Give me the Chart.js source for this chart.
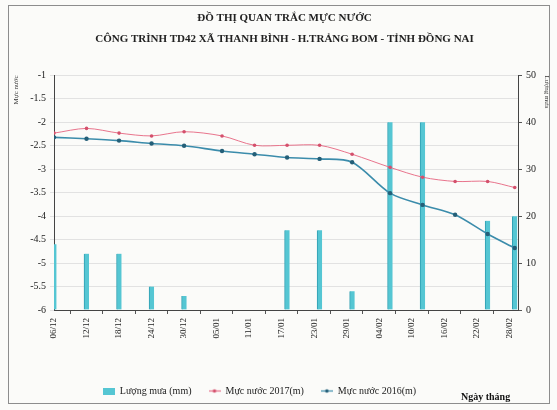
<!DOCTYPE html>
<html><head><meta charset="utf-8">
<script src="https://cdn.jsdelivr.net/npm/chart.js@4.4.1/dist/chart.umd.min.js"></script>
<style>html,body{margin:0;padding:0;background:#fff}canvas{display:block}</style>
</head><body>
<canvas id="c" width="557" height="410"></canvas>
<script>
// ---- data ----
const startDate = '2015-12-06';
const obsDates = ['2015-12-06','2015-12-12','2015-12-18','2015-12-24','2015-12-30','2016-01-06','2016-01-12','2016-01-18','2016-01-24','2016-01-30','2016-02-06','2016-02-12','2016-02-18','2016-02-24','2016-02-29'];
const rainfall  = [14, 12, 12, 5, 3, 0, 0, 17, 17, 4, 40, 40, 0, 19, 20];
const level2017 = [-2.23,-2.13,-2.23,-2.29,-2.20,-2.29,-2.49,-2.49,-2.49,-2.68,-2.96,-3.17,-3.26,-3.26,-3.39];
const level2016 = [-2.32,-2.35,-2.39,-2.45,-2.50,-2.61,-2.68,-2.75,-2.78,-2.85,-3.51,-3.76,-3.97,-4.38,-4.68];
const tickDates = ['2015-12-06','2015-12-12','2015-12-18','2015-12-24','2015-12-30','2016-01-05','2016-01-11','2016-01-17','2016-01-23','2016-01-29','2016-02-04','2016-02-10','2016-02-16','2016-02-22','2016-02-28'];
const titleText = 'ĐỒ THỊ QUAN TRẮC MỰC NƯỚC';
const subtitleText = 'CÔNG TRÌNH TD42 XÃ THANH BÌNH - H.TRẢNG BOM - TỈNH ĐỒNG NAI';
const seriesNames = ['Lượng mưa (mm)','Mực nước 2017(m)','Mực nước 2016(m)'];
const xTitle = 'Ngày tháng';
const yTitle = 'Mực nước';
const y1Title = 'Lượng mưa';

const DAY = 86400000;
const dayOf = s => Math.round((Date.parse(s) - Date.parse(startDate)) / DAY);
const fmt = s => s.slice(8,10) + '/' + s.slice(5,7);
const xs = obsDates.map(dayOf);
const tickVals = tickDates.map(dayOf);
const tickLabelMap = {};
tickDates.forEach(d => tickLabelMap[dayOf(d)] = fmt(d));

const FONT = 'Liberation Serif';
const PINK = '#e8748c', PINK_D = '#d4506c';
const BLUE = '#3b8cab', BLUE_D = '#245f78';
const BAR = '#55c6d3';

function lineIcon(line, dot){
  const c = document.createElement('canvas'); c.width = 12; c.height = 7;
  const g = c.getContext('2d');
  g.strokeStyle = line; g.lineWidth = 1.2;
  g.beginPath(); g.moveTo(0,3.5); g.lineTo(12,3.5); g.stroke();
  g.fillStyle = dot; g.beginPath(); g.arc(6,3.5,1.8,0,Math.PI*2); g.fill();
  return c;
}
function boxIcon(col){
  const c = document.createElement('canvas'); c.width = 12; c.height = 7;
  const g = c.getContext('2d');
  g.fillStyle = col; g.fillRect(0,0,12,7);
  return c;
}
const icons = [boxIcon(BAR), lineIcon(PINK, PINK_D), lineIcon(BLUE, BLUE_D)];

const framePlugin = {
  id: 'frame',
  beforeDraw(chart){
    const g = chart.ctx;
    g.save();
    g.fillStyle = '#fbfbf9'; g.fillRect(0,0,chart.width,chart.height);
    g.strokeStyle = '#8d8d8d'; g.lineWidth = 1;
    g.strokeRect(8.5, 5.5, 541, 398);
    g.restore();
  },
  afterLayout(chart){
    const L = chart.legend;
    if (L) { L.left -= 25; L.right -= 25; }
  },
  afterDraw(chart){
    const g = chart.ctx;
    g.save();
    g.fillStyle = '#111';
    g.font = 'bold 10px "' + FONT + '"';
    g.textAlign = 'left'; g.textBaseline = 'middle';
    g.fillText(xTitle, 461, 397);
    g.restore();
  }
};

new Chart(document.getElementById('c'), {
  type: 'bar',
  data: {
    datasets: [
      { type:'bar', label: seriesNames[0], yAxisID:'y1', order: 3,
        data: xs.map((x,i)=>({x, y: rainfall[i]})),
        backgroundColor: BAR, borderColor: '#2f9fb2', borderWidth: {left:1, top:0, right:0, bottom:0},
        borderSkipped: false, barThickness: 5 },
      { type:'line', label: seriesNames[1], yAxisID:'y', order: 2,
        data: xs.map((x,i)=>({x, y: level2017[i]})),
        borderColor: PINK, borderWidth: 1, backgroundColor: PINK_D,
        pointRadius: 1.8, pointBorderWidth: 0, tension: 0.3 },
      { type:'line', label: seriesNames[2], yAxisID:'y', order: 1,
        data: xs.map((x,i)=>({x, y: level2016[i]})),
        borderColor: BLUE, borderWidth: 1.6, backgroundColor: BLUE_D,
        pointRadius: 2.2, pointBorderWidth: 0, tension: 0.3 }
    ]
  },
  options: {
    responsive: false, animation: false, devicePixelRatio: 1,
    layout: { padding: { left: 12, right: 0, top: 0, bottom: 4 } },
    font: { family: FONT },
    plugins: {
      title: { display: true, text: titleText, color: '#222',
        font: { family: FONT, size: 11, weight: 'bold' }, padding: { top: 12, bottom: 7 } },
      subtitle: { display: true, text: subtitleText, color: '#222',
        font: { family: FONT, size: 11, weight: 'bold' }, padding: { top: 0, bottom: 30 } },
      legend: { position: 'bottom',
        labels: { font: { family: FONT, size: 10 }, color: '#222', usePointStyle: true, pointStyleWidth: 12, boxHeight: 7, padding: 17,
          generateLabels(chart){
            const items = Chart.defaults.plugins.legend.labels.generateLabels(chart);
            items.sort((a,b)=>a.datasetIndex-b.datasetIndex);
            items.forEach(it=>{ it.pointStyle = icons[it.datasetIndex]; });
            return items;
          } } },
      tooltip: { enabled: false }
    },
    scales: {
      x: { type: 'linear', min: 0, max: 85.6, offset: false,
        afterBuildTicks(s){ s.ticks = tickVals.map(v=>({value:v})); },
        afterFit(s){ s.height = 59; },
        ticks: { autoSkip: false, maxRotation: 90, minRotation: 90, color: '#222',
          font: { family: FONT, size: 9 }, padding: 4,
          callback: v => tickLabelMap[v] || '' },
        grid: { drawOnChartArea: false, tickLength: 4, color: '#555' },
        border: { color: '#444', width: 1 } },
      y: { position: 'left', min: -6, max: -1,
        afterFit(s){ s.width = 42; },
        ticks: { stepSize: 0.5, color: '#222', font: { family: FONT, size: 10 }, padding: 4,
          callback: v => String(v) },
        grid: { color: '#e2e2e2', tickLength: 4 },
        border: { color: '#444', width: 1 },
        title: { display: true, text: yTitle, align: 'end', color: '#333', font: { family: FONT, size: 7 }, padding: 0 } },
      y1: { position: 'right', min: 0, max: 50,
        afterFit(s){ s.width = 39; },
        ticks: { stepSize: 10, color: '#222', font: { family: FONT, size: 10 }, padding: 4 },
        grid: { drawOnChartArea: false, tickLength: 4, color: '#555' },
        border: { color: '#444', width: 1 },
        title: { display: true, text: y1Title, align: 'end', color: '#333', font: { family: FONT, size: 7 }, padding: 6 } }
    }
  },
  plugins: [framePlugin]
});
</script>
</body></html>
